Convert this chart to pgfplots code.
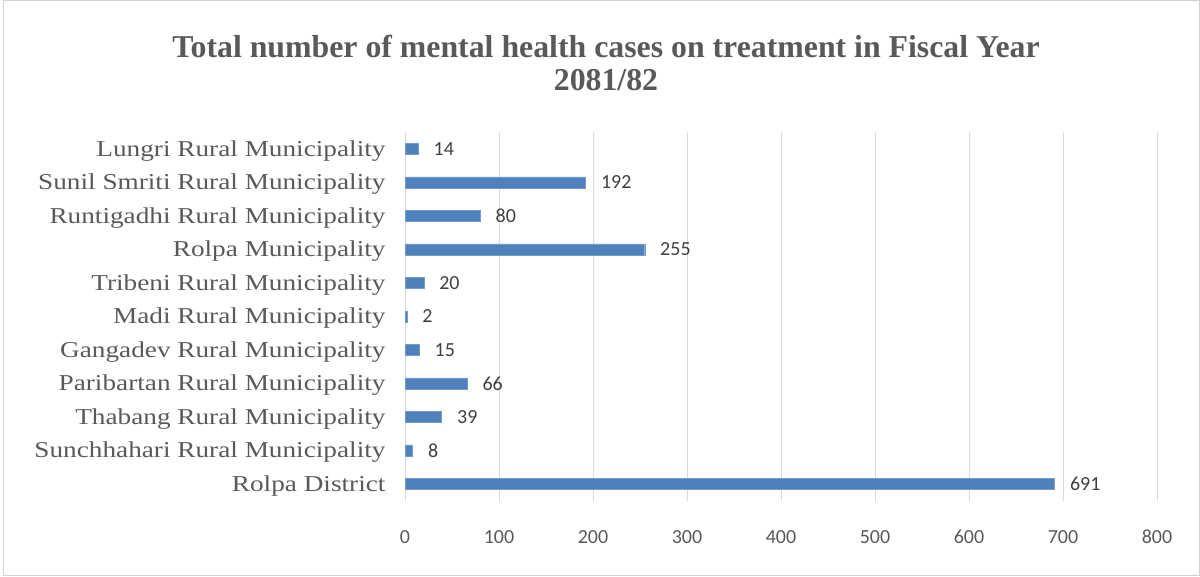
\documentclass[border=0pt]{standalone}
\usepackage{pgfplots}
\pgfplotsset{compat=1.18}
\usepackage{fontspec}
\setmainfont{Liberation Serif}
\newfontfamily\labelfont[FakeStretch=1.2]{Liberation Serif}
\newfontfamily\numfont{Carlito}
\definecolor{barblue}{HTML}{4F81BD}
\definecolor{gridgray}{HTML}{D9D9D9}
\definecolor{txtgray}{HTML}{595959}
\definecolor{labgray}{HTML}{404040}
\begin{document}
\begin{tikzpicture}[x=1bp,y=1bp]
\path[use as bounding box] (0,0) rectangle (1200,577);
\draw[gray!35, line width=1bp] (3,1) rectangle (1199,576);
\node[font=\fontsize{31.8bp}{36bp}\selectfont\bfseries, text=txtgray] at (606,577-47) {Total number of mental health cases on treatment in Fiscal Year};
\node[font=\fontsize{31.8bp}{36bp}\selectfont\bfseries, text=txtgray] at (606,577-80) {2081/82};
\begin{axis}[
  at={(405bp,76.25bp)}, anchor=south west,
  width=752bp, height=368.5bp, scale only axis,
  xmin=0, xmax=800, ymin=-0.5, ymax=10.5,
  xbar, bar width=11bp,
  ytick={0,...,10},
  yticklabels={Rolpa District, Sunchhahari Rural Municipality, Thabang Rural Municipality, Paribartan Rural Municipality, Gangadev Rural Municipality, Madi Rural Municipality, Tribeni Rural Municipality, Rolpa Municipality, Runtigadhi Rural Municipality, Sunil Smriti Rural Municipality, Lungri Rural Municipality},
  xtick={0,100,...,800},
  xmajorgrids, grid style={gridgray, line width=1bp},
  axis lines*=left,
  x axis line style={draw=none},
  y axis line style={gridgray, line width=1bp},
  major tick length=0pt,
  /pgf/number format/assume math mode=true,
  xticklabel style={font=\numfont\fontsize{20bp}{24bp}\selectfont, text=txtgray, yshift=-26bp},
  yticklabel style={font=\labelfont\fontsize{22.7bp}{26bp}\selectfont, text=txtgray, xshift=-16bp, yshift=-2bp},
  nodes near coords,
  nodes near coords style={font=\numfont\fontsize{20bp}{24bp}\selectfont, text=labgray, anchor=west, xshift=12bp},
]
\addplot[fill=barblue, draw=barblue!80!white] coordinates {
(691,0) (8,1) (39,2) (66,3) (15,4) (2,5) (20,6) (255,7) (80,8) (192,9) (14,10)
};
\end{axis}
\end{tikzpicture}
\end{document}
